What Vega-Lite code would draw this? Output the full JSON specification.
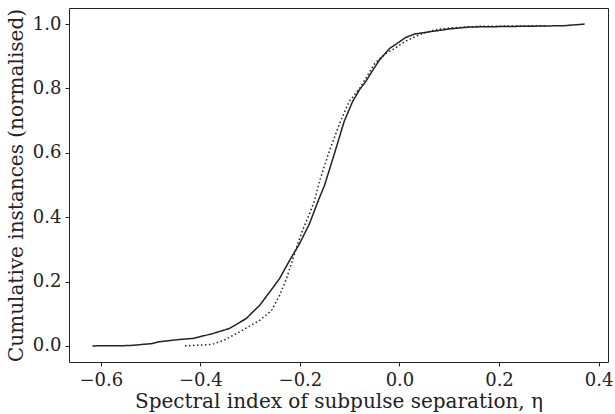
{
  "$schema": "https://vega.github.io/schema/vega-lite/v6.json",
  "width": 539,
  "height": 354,
  "autosize": {"type": "none"},
  "padding": {"left": 69, "top": 8, "right": 7, "bottom": 52},
  "background": "white",
  "config": {
    "view": {"stroke": "#222", "strokeWidth": 1},
    "axis": {
      "domain": false,
      "grid": false,
      "tickColor": "#222",
      "tickSize": 4,
      "tickWidth": 1,
      "labelFont": "DejaVu Serif",
      "labelFontSize": 18,
      "labelColor": "#222",
      "titleFont": "DejaVu Serif",
      "titleFontSize": 20,
      "titleFontWeight": "normal",
      "titleColor": "#222",
      "labelPadding": 4
    }
  },
  "data": {
    "values": [
      {"eta": -0.617, "cum": 0.0, "s": "solid"},
      {"eta": -0.543, "cum": 0.001, "s": "solid"},
      {"eta": -0.498, "cum": 0.007, "s": "solid"},
      {"eta": -0.482, "cum": 0.013, "s": "solid"},
      {"eta": -0.442, "cum": 0.02, "s": "solid"},
      {"eta": -0.416, "cum": 0.023, "s": "solid"},
      {"eta": -0.402, "cum": 0.028, "s": "solid"},
      {"eta": -0.376, "cum": 0.038, "s": "solid"},
      {"eta": -0.342, "cum": 0.054, "s": "solid"},
      {"eta": -0.308, "cum": 0.085, "s": "solid"},
      {"eta": -0.295, "cum": 0.105, "s": "solid"},
      {"eta": -0.281, "cum": 0.126, "s": "solid"},
      {"eta": -0.261, "cum": 0.167, "s": "solid"},
      {"eta": -0.241, "cum": 0.209, "s": "solid"},
      {"eta": -0.221, "cum": 0.265, "s": "solid"},
      {"eta": -0.201, "cum": 0.317, "s": "solid"},
      {"eta": -0.181, "cum": 0.379, "s": "solid"},
      {"eta": -0.161, "cum": 0.46, "s": "solid"},
      {"eta": -0.151, "cum": 0.497, "s": "solid"},
      {"eta": -0.131, "cum": 0.596, "s": "solid"},
      {"eta": -0.111, "cum": 0.698, "s": "solid"},
      {"eta": -0.094, "cum": 0.76, "s": "solid"},
      {"eta": -0.08, "cum": 0.797, "s": "solid"},
      {"eta": -0.068, "cum": 0.821, "s": "solid"},
      {"eta": -0.058, "cum": 0.846, "s": "solid"},
      {"eta": -0.04, "cum": 0.889, "s": "solid"},
      {"eta": -0.02, "cum": 0.924, "s": "solid"},
      {"eta": 0.0, "cum": 0.945, "s": "solid"},
      {"eta": 0.012, "cum": 0.958, "s": "solid"},
      {"eta": 0.03, "cum": 0.969, "s": "solid"},
      {"eta": 0.06, "cum": 0.976, "s": "solid"},
      {"eta": 0.101, "cum": 0.985, "s": "solid"},
      {"eta": 0.141, "cum": 0.991, "s": "solid"},
      {"eta": 0.241, "cum": 0.993, "s": "solid"},
      {"eta": 0.33, "cum": 0.995, "s": "solid"},
      {"eta": 0.372, "cum": 1.0, "s": "solid"},
      {"eta": -0.431, "cum": 0.0, "s": "dotted"},
      {"eta": -0.376, "cum": 0.005, "s": "dotted"},
      {"eta": -0.352, "cum": 0.018, "s": "dotted"},
      {"eta": -0.322, "cum": 0.043, "s": "dotted"},
      {"eta": -0.281, "cum": 0.079, "s": "dotted"},
      {"eta": -0.257, "cum": 0.11, "s": "dotted"},
      {"eta": -0.241, "cum": 0.157, "s": "dotted"},
      {"eta": -0.227, "cum": 0.209, "s": "dotted"},
      {"eta": -0.207, "cum": 0.305, "s": "dotted"},
      {"eta": -0.195, "cum": 0.358, "s": "dotted"},
      {"eta": -0.181, "cum": 0.41, "s": "dotted"},
      {"eta": -0.171, "cum": 0.45, "s": "dotted"},
      {"eta": -0.161, "cum": 0.51, "s": "dotted"},
      {"eta": -0.141, "cum": 0.605, "s": "dotted"},
      {"eta": -0.121, "cum": 0.688, "s": "dotted"},
      {"eta": -0.101, "cum": 0.76, "s": "dotted"},
      {"eta": -0.08, "cum": 0.8, "s": "dotted"},
      {"eta": -0.05, "cum": 0.877, "s": "dotted"},
      {"eta": -0.03, "cum": 0.906, "s": "dotted"},
      {"eta": -0.01, "cum": 0.924, "s": "dotted"},
      {"eta": 0.01, "cum": 0.945, "s": "dotted"},
      {"eta": 0.04, "cum": 0.967, "s": "dotted"},
      {"eta": 0.07, "cum": 0.982, "s": "dotted"},
      {"eta": 0.101, "cum": 0.988, "s": "dotted"},
      {"eta": 0.161, "cum": 0.993, "s": "dotted"},
      {"eta": 0.295, "cum": 0.995, "s": "dotted"}
    ]
  },
  "mark": {"type": "line", "color": "#222", "strokeWidth": 1.5, "clip": true},
  "encoding": {
    "x": {
      "field": "eta", "type": "quantitative",
      "scale": {"domain": [-0.664, 0.419], "zero": false, "nice": false},
      "axis": {"values": [-0.6, -0.4, -0.2, 0, 0.2, 0.4], "format": ".1f", "title": "Spectral index of subpulse separation, η", "titlePadding": 2, "labelPadding": 5}
    },
    "y": {
      "field": "cum", "type": "quantitative",
      "scale": {"domain": [-0.05, 1.05], "zero": false, "nice": false},
      "axis": {"values": [0, 0.2, 0.4, 0.6, 0.8, 1.0], "format": ".1f", "title": "Cumulative instances (normalised)", "titlePadding": 6}
    },
    "detail": {"field": "s", "type": "nominal"},
    "strokeDash": {
      "field": "s", "type": "nominal",
      "scale": {"domain": ["solid", "dotted"], "range": [[1, 0], [1.5, 2.5]]},
      "legend": null
    }
  }
}
